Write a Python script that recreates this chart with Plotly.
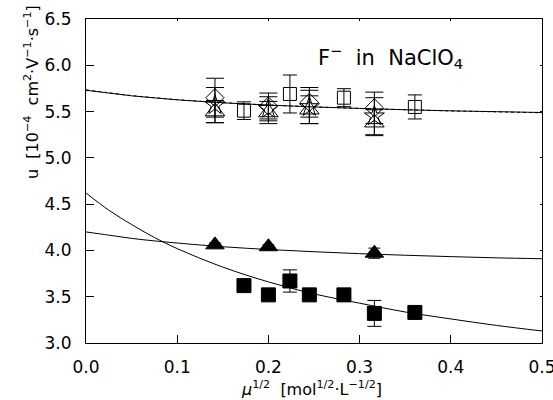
import plotly.graph_objects as go

# ---------------- data ----------------
# open markers, F- in NaClO4 (upper group)
x_sq_open = [0.1732, 0.2236, 0.2828, 0.3606]
u_sq_open = [5.51, 5.69, 5.65, 5.55]
e_sq_open = [0.095, 0.205, 0.097, 0.13]

x_cluster = [0.1414, 0.2000, 0.2449, 0.3162]
u_diamond = [5.65, 5.56, 5.60, 5.54]
e_diamond = [0.21, 0.14, 0.16, 0.17]
u_star = [5.57, 5.53, 5.55, 5.45]
e_star = [0.19, 0.13, 0.18, 0.20]
u_tri_open = [5.50, 5.49, 5.52, 5.38]
e_tri_open = [0.12, 0.12, 0.15, 0.14]

# filled markers (lower group)
x_tri = [0.1414, 0.2000, 0.3162]
u_tri = [4.06, 4.04, 3.97]
e_tri = [0.02, 0.02, 0.055]

x_sq = [0.1732, 0.2000, 0.2236, 0.2449, 0.2828, 0.3162, 0.3606]
u_sq = [3.62, 3.52, 3.67, 3.52, 3.52, 3.32, 3.33]
e_sq = [0.0, 0.0, 0.12, 0.0, 0.0, 0.14, 0.0]

# fitted curves
x_fit = [0.0, 0.025, 0.05, 0.075, 0.1, 0.15, 0.2, 0.25, 0.3, 0.35, 0.4, 0.45, 0.5]
u_fit_top = [5.73, 5.70, 5.67, 5.648, 5.627, 5.595, 5.57, 5.55, 5.534, 5.52, 5.508, 5.499, 5.49]
u_fit_top_dot = [5.735, 5.703, 5.673, 5.65, 5.629, 5.596, 5.571, 5.551, 5.534, 5.52, 5.507, 5.497, 5.487]
u_fit_tri = [4.20, 4.165, 4.13, 4.103, 4.08, 4.04, 4.01, 3.986, 3.965, 3.948, 3.933, 3.92, 3.91]
u_fit_sq = [4.62, 4.435, 4.28, 4.14, 4.02, 3.82, 3.66, 3.53, 3.43, 3.335, 3.26, 3.19, 3.13]

x_ticks = [0.0, 0.1, 0.2, 0.3, 0.4, 0.5]
y_ticks = [3.0, 3.5, 4.0, 4.5, 5.0, 5.5, 6.0, 6.5]

FONT = "DejaVu Sans"
BLACK = "black"

fig = go.Figure()

def line(x, y, dash="solid"):
    fig.add_trace(go.Scatter(x=x, y=y, mode="lines", line=dict(color=BLACK, width=1, dash=dash, shape="spline"),
                             showlegend=False, hoverinfo="skip"))

def pts(x, y, e, symbol, size, cap):
    fig.add_trace(go.Scatter(
        x=x, y=y, mode="markers",
        marker=dict(symbol=symbol, size=size, color=BLACK, line=dict(color=BLACK, width=1)),
        error_y=dict(type="data", array=e, visible=True, color=BLACK, thickness=1, width=cap),
        showlegend=False))

line(x_fit, u_fit_top)
line(x_fit, u_fit_top_dot, dash="dot")
line(x_fit, u_fit_tri)
line(x_fit, u_fit_sq)

pts(x_sq_open, u_sq_open, e_sq_open, "square-open", 13, 7)
pts(x_cluster, u_diamond, e_diamond, "diamond-open", 14, 9)
pts(x_cluster, u_star, e_star, "star-open", 15, 9)
pts(x_cluster, u_tri_open, e_tri_open, "triangle-up-open", 17, 9)
pts(x_tri, u_tri, e_tri, "triangle-up", 16, 6)
pts(x_sq, u_sq, e_sq, "square", 14, 7)

axis_common = dict(showgrid=False, zeroline=False, showline=True, linecolor=BLACK, linewidth=1,
                   ticks="inside", tickcolor=BLACK, tickwidth=1, mirror=False, automargin=False)
tick_font = dict(family=FONT, size=17, color=BLACK)

fig.update_layout(
    width=553, height=400,
    margin=dict(l=86, r=11, t=19, b=57, autoexpand=False),
    paper_bgcolor="white", plot_bgcolor="white",
    font=dict(family=FONT, color=BLACK),
    xaxis=dict(range=[0, 0.5], tickvals=x_ticks, ticktext=[f"{v:.1f}" for v in x_ticks],
               ticklen=8, ticklabelstandoff=9, tickfont=tick_font, ticklabeloverflow="allow",
               **axis_common),
    yaxis=dict(range=[3.0, 6.5], tickvals=y_ticks, ticktext=[f"{v:.1f}" for v in y_ticks],
               ticklen=8, ticklabelstandoff=10, tickfont=tick_font, ticklabeloverflow="allow",
               **axis_common),
    xaxis2=dict(range=[0, 0.5], overlaying="x", side="top", tickvals=x_ticks, ticklen=2,
                showticklabels=False, **axis_common),
    yaxis2=dict(range=[3.0, 6.5], overlaying="y", side="right", tickvals=y_ticks, ticklen=2,
                showticklabels=False, **axis_common),
)
# dummy trace to activate the mirror axes
fig.add_trace(go.Scatter(x=[None], y=[None], xaxis="x2", yaxis="y2", showlegend=False))

fig.add_annotation(text="F<sup>−</sup>  in  NaClO<sub>4</sub>", xref="paper", yref="paper",
                   x=(316 - 86) / 456, y=1 - (57 - 19) / 324, xanchor="left", yanchor="middle",
                   showarrow=False, font=dict(family=FONT, size=21, color=BLACK))
fig.add_annotation(text="<i>μ</i><sup>1/2</sup>  [mol<sup>1/2</sup>·L<sup>−1/2</sup>]", xref="paper", yref="paper",
                   x=(311 - 86) / 456, y=-(388 - 343) / 324, xanchor="center", yanchor="middle",
                   showarrow=False, font=dict(family=FONT, size=16, color=BLACK))
fig.add_annotation(text="u  [10<sup>−4</sup>  cm<sup>2</sup>·V<sup>−1</sup>·s<sup>−1</sup>]", xref="paper", yref="paper",
                   x=(31 - 86) / 456, y=1 - (92 - 19) / 324, xanchor="center", yanchor="middle", textangle=-90,
                   showarrow=False, font=dict(family=FONT, size=16, color=BLACK))

fig.write_html("out.html", config={"displayModeBar": False},
               post_script="document.body.style.margin='0';document.body.style.overflow='hidden';")
